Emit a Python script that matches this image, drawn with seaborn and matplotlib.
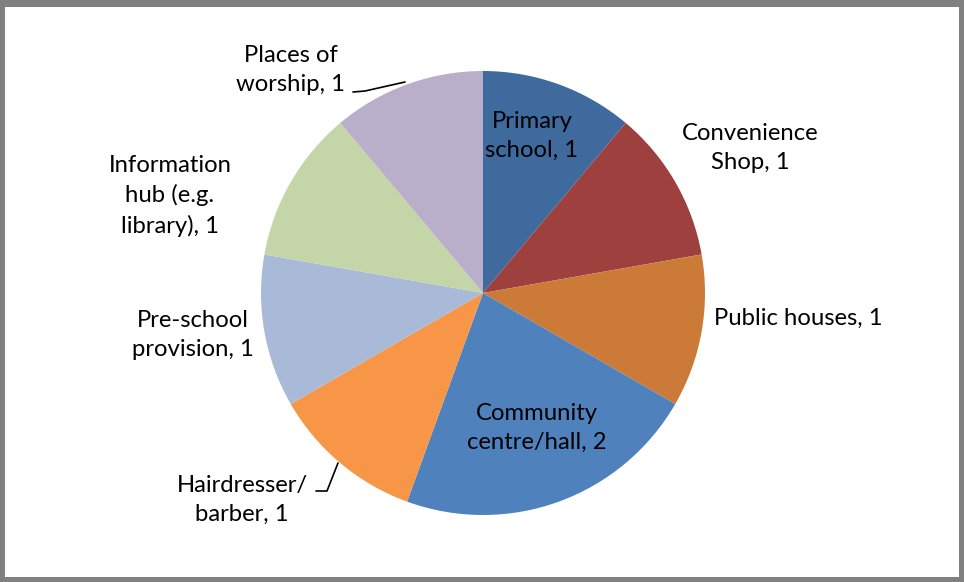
import matplotlib
matplotlib.use("Agg")
import matplotlib.pyplot as plt
import seaborn as sns
from matplotlib.patches import Rectangle

categories = ["Primary school", "Convenience Shop", "Public houses", "Community centre/hall",
              "Hairdresser/ barber", "Pre-school provision", "Information hub (e.g. library)",
              "Places of worship"]
values = [1, 1, 1, 2, 1, 1, 1, 1]
label_texts = ["Primary\nschool, 1", "Convenience\nShop, 1", "Public houses, 1",
               "Community\ncentre/hall, 2", "Hairdresser/\nbarber, 1", "Pre-school\nprovision, 1",
               "Information\nhub (e.g.\nlibrary), 1", "Places of\nworship, 1"]
colors = ["#3F6A9E", "#9E413E", "#CC7A38", "#4F81BD", "#F79646", "#A9BAD9", "#C4D6A8", "#B9AFCB"]

sns.set_theme(style="white")
plt.rcParams['font.family'] = ['Lato', 'DejaVu Sans']

W, H = 964, 582
fig = plt.figure(figsize=(W / 100, H / 100), dpi=100)
ax = fig.add_axes([0, 0, 1, 1])

cx, cy, r = 483, H - 293, 222
ax.pie(values, colors=colors, startangle=90, counterclock=False,
       center=(cx, cy), radius=r, wedgeprops=dict(linewidth=0))
ax.set_xlim(0, W)
ax.set_ylim(0, H)
ax.set_aspect('auto')
ax.axis('off')

# label positions in pixel coordinates (x, y from top)
label_pos = [(532, 136), (750, 148), (798, 318), (537, 428), (242, 500),
             (193, 335), (170, 196), (291, 70)]
for txt, (x, y) in zip(label_texts, label_pos):
    ax.text(x, H - y, txt, ha='center', va='center', multialignment='center',
            fontsize=17.2, color='black', linespacing=1.44)

# leader lines
ax.plot([353, 365, 405], [H - 92, H - 91, H - 82], color='black', lw=1.2)
ax.plot([316, 327, 338], [H - 491, H - 491, H - 463], color='black', lw=1.2)

# frame (pixel units)
frame = [(0, H - 7, W, 7), (0, 0, W, 5), (0, 0, 5, H), (W - 5, 0, 5, H)]
for (x0, y0, w, h) in frame:
    ax.add_patch(Rectangle((x0, y0), w, h, facecolor='#808080', edgecolor='none',
                           clip_on=False, zorder=10))

fig.savefig("out.png", dpi=100)
